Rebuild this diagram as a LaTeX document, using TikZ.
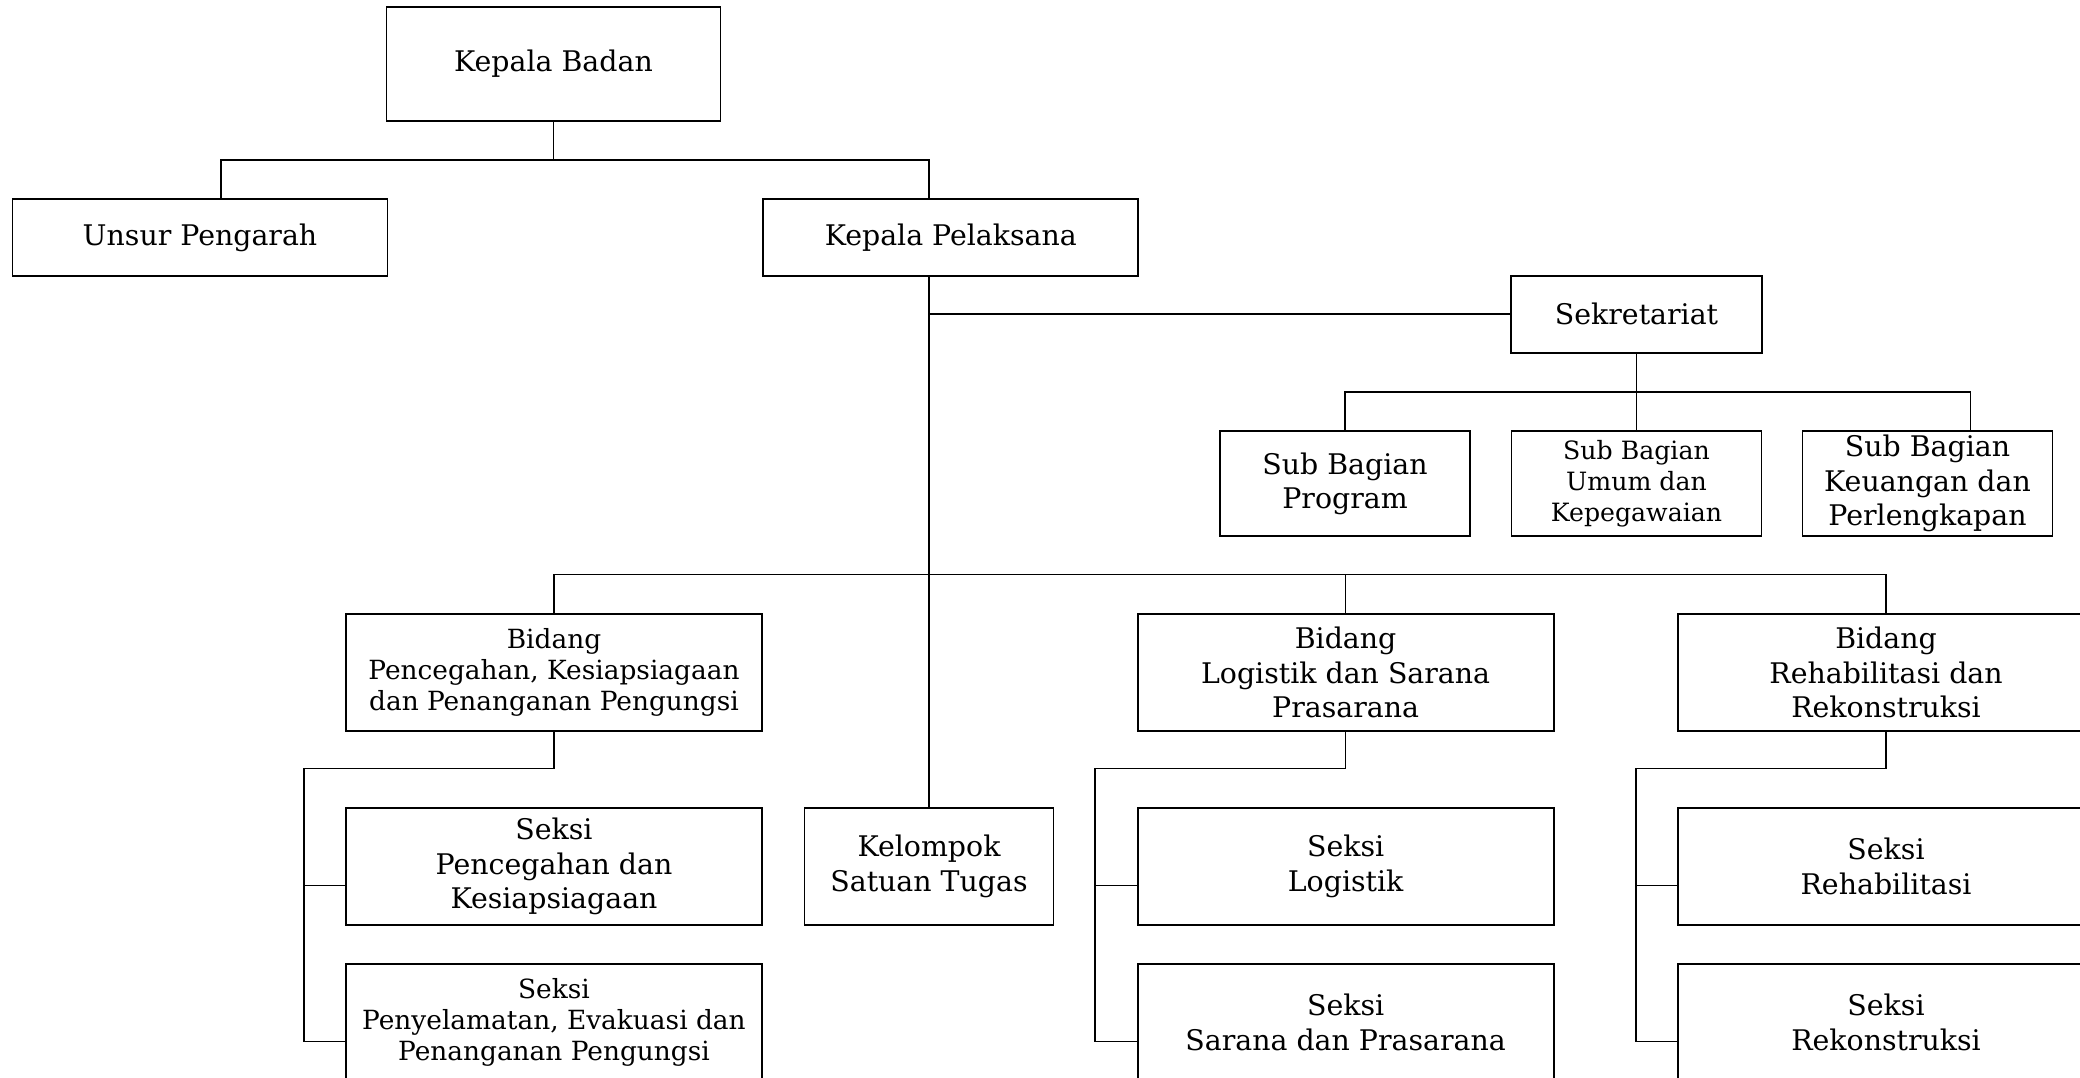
\documentclass[tikz,border=0pt]{standalone}
\usepackage{fontspec}
\setmainfont{DejaVu Serif}
\usepackage{tikz}
\usetikzlibrary{positioning}

\begin{document}
\begin{tikzpicture}
  [
    x=0.5pt, y=-0.5pt,
    Unit/.style={rectangle, draw=black, line width=0.95pt, align=center, inner sep=0pt, font=\fontsize{14.2}{17.2}\selectfont},
    Small/.style={font=\fontsize{13.2}{15.6}\selectfont},
    Smaller/.style={font=\fontsize{12.6}{15.5}\selectfont},
    Wide/.style={minimum width=208pt, minimum height=58.5pt},
    Sub/.style={minimum width=125pt, minimum height=52.5pt},
    Line/.style={draw, line width=0.8pt}
  ]
  \path[use as bounding box, clip] (0,0) rectangle (2080,1077);

  % Nodes
  \node[Unit, minimum width=167pt, minimum height=57pt] (kb) at(553.5, 63.7) {Kepala Badan};
  \node[Unit, minimum width=187.5pt, minimum height=38.5pt] (up) at(200, 237.5) {Unsur Pengarah};
  \node[Unit, minimum width=187.5pt, minimum height=38.5pt] (kp) at(950.8, 237.5) {Kepala Pelaksana};
  \node[Unit, minimum width=125.5pt, minimum height=38.5pt] (sek) at(1636.5, 314.2) {Sekretariat};

  \node[Unit, Sub] (sbp) at(1345, 483.6) {Sub Bagian\\Program};
  \node[Unit, Sub, Smaller] (sbu) at(1636.5, 483.6) {Sub Bagian\\Umum dan\\Kepegawaian};
  \node[Unit, Sub] (sbk) at(1927.5, 483.6) {Sub Bagian\\Keuangan dan\\Perlengkapan};

  \node[Unit, Wide, Small] (bpk) at(554, 672.5) {Bidang\\Pencegahan, Kesiapsiagaan\\dan Penanganan Pengungsi};
  \node[Unit, Wide] (bls) at(1345.6, 672.5) {Bidang\\Logistik dan Sarana\\Prasarana};
  \node[Unit, Wide] (brr) at(1886, 672.5) {Bidang\\Rehabilitasi dan\\Rekonstruksi};

  \node[Unit, Wide] (spk) at(554, 866.5) {Seksi\\Pencegahan dan\\Kesiapsiagaan};
  \node[Unit, Wide, Small] (spe) at(554, 1022.5) {Seksi\\Penyelamatan, Evakuasi dan\\Penanganan Pengungsi};
  \node[Unit, minimum width=124.5pt, minimum height=58.3pt] (kst) at(929, 866.5) {Kelompok\\Satuan Tugas};
  \node[Unit, Wide] (slg) at(1345.6, 866.5) {Seksi\\Logistik};
  \node[Unit, Wide] (ssp) at(1345.6, 1022.5) {Seksi\\Sarana dan Prasarana};
  \node[Unit, Wide] (srh) at(1886, 866.5) {Seksi\\Rehabilitasi};
  \node[Unit, Wide] (srk) at(1886, 1022.5) {Seksi\\Rekonstruksi};

  % Bus points
  \coordinate (kbl) at(220.8, 160);
  \coordinate (kbr) at(928.8, 160);
  \coordinate (sbr) at(1970.3, 392);
  \coordinate (bus) at(0, 574.4);
  \coordinate (pkx) at(304, 768.3);
  \coordinate (lsx) at(1095, 768.3);
  \coordinate (rrx) at(1636, 768.3);

  % Lines
  \path [Line] (kb.south) -- (kb.south |- kbl);
  \path [Line] (kbl |- up.north) -- (kbl) -- (kbr) -- (kbr |- kp.north);
  \path [Line] (kst.north |- kp.south) -- (kst.north);
  \path [Line] (sek.west) -- (sek.west -| kst.north);

  \path [Line] (sek.south) -- (sek.south |- sbr);
  \path [Line] (sbp.north) -- (sbp.north |- sbr) -- (sbr) -- (sbr |- sbk.north);
  \path [Line] (sbu.north) -- (sbu.north |- sbr);

  \path [Line] (bpk.north) -- (bpk.north |- bus) -- (brr.north |- bus) -- (brr.north);
  \path [Line] (bls.north) -- (bls.north |- bus);

  \path [Line] (bpk.south) -- (bpk.south |- pkx) -- (pkx) |- ([yshift=-9.5pt]spe.west);
  \path [Line] (pkx |- spk.west) ++(0,19) -- ([yshift=-9.5pt]spk.west);
  \path [Line] (bls.south) -- (bls.south |- lsx) -- (lsx) |- ([yshift=-9.5pt]ssp.west);
  \path [Line] (lsx |- slg.west) ++(0,19) -- ([yshift=-9.5pt]slg.west);
  \path [Line] (brr.south) -- (brr.south |- rrx) -- (rrx) |- ([yshift=-9.5pt]srk.west);
  \path [Line] (rrx |- srh.west) ++(0,19) -- ([yshift=-9.5pt]srh.west);

\end{tikzpicture}
\end{document}
